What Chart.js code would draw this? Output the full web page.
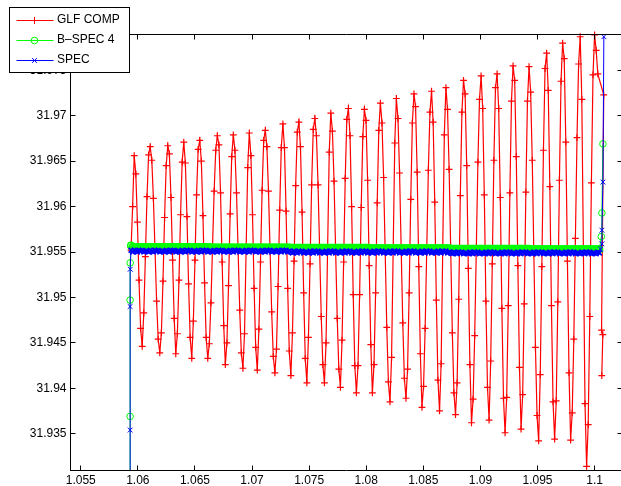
<!DOCTYPE html>
<html>
<head>
<meta charset="utf-8">
<title>GLF COMP / B–SPEC 4 / SPEC</title>
<script src="https://cdn.jsdelivr.net/npm/chart.js@4.4.1/dist/chart.umd.min.js"></script>
<style>
  html, body { margin: 0; padding: 0; background: #fff; overflow: hidden; }
  #wrap { width: 621px; height: 486px; overflow: hidden; }
  canvas { display: block; }
</style>
</head>
<body>
<div id="wrap"><canvas id="plot" width="630" height="486"></canvas></div>
<script>
// Common sweep grid shared by the three traces
const freq = [
  1.0594, 1.05954, 1.05968, 1.05982, 1.05996, 1.0601, 1.06024, 1.06038, 1.06052, 1.06066,
  1.0608, 1.06094, 1.06108, 1.06122, 1.06136, 1.0615, 1.06164, 1.06178, 1.06192, 1.06206,
  1.0622, 1.06234, 1.06248, 1.06262, 1.06276, 1.0629, 1.06304, 1.06318, 1.06332, 1.06346,
  1.0636, 1.06374, 1.06388, 1.06402, 1.06416, 1.0643, 1.06444, 1.06458, 1.06472, 1.06486,
  1.065, 1.06514, 1.06528, 1.06542, 1.06556, 1.0657, 1.06584, 1.06598, 1.06612, 1.06626,
  1.0664, 1.06654, 1.06668, 1.06682, 1.06696, 1.0671, 1.06724, 1.06738, 1.06752, 1.06766,
  1.0678, 1.06794, 1.06808, 1.06822, 1.06836, 1.0685, 1.06864, 1.06878, 1.06892, 1.06906,
  1.0692, 1.06934, 1.06948, 1.06962, 1.06976, 1.0699, 1.07004, 1.07018, 1.07032, 1.07046,
  1.0706, 1.07074, 1.07088, 1.07102, 1.07116, 1.0713, 1.07144, 1.07158, 1.07172, 1.07186,
  1.072, 1.07214, 1.07228, 1.07242, 1.07256, 1.0727, 1.07284, 1.07298, 1.07312, 1.07326,
  1.0734, 1.07354, 1.07368, 1.07382, 1.07396, 1.0741, 1.07424, 1.07438, 1.07452, 1.07466,
  1.0748, 1.07494, 1.07508, 1.07522, 1.07536, 1.0755, 1.07564, 1.07578, 1.07592, 1.07606,
  1.0762, 1.07634, 1.07648, 1.07662, 1.07676, 1.0769, 1.07704, 1.07718, 1.07732, 1.07746,
  1.0776, 1.07774, 1.07788, 1.07802, 1.07816, 1.0783, 1.07844, 1.07858, 1.07872, 1.07886,
  1.079, 1.07914, 1.07928, 1.07942, 1.07956, 1.0797, 1.07984, 1.07998, 1.08012, 1.08026,
  1.0804, 1.08054, 1.08068, 1.08082, 1.08096, 1.0811, 1.08124, 1.08138, 1.08152, 1.08166,
  1.0818, 1.08194, 1.08208, 1.08222, 1.08236, 1.0825, 1.08264, 1.08278, 1.08292, 1.08306,
  1.0832, 1.08334, 1.08348, 1.08362, 1.08376, 1.0839, 1.08404, 1.08418, 1.08432, 1.08446,
  1.0846, 1.08474, 1.08488, 1.08502, 1.08516, 1.0853, 1.08544, 1.08558, 1.08572, 1.08586,
  1.086, 1.08614, 1.08628, 1.08642, 1.08656, 1.0867, 1.08684, 1.08698, 1.08712, 1.08726,
  1.0874, 1.08754, 1.08768, 1.08782, 1.08796, 1.0881, 1.08824, 1.08838, 1.08852, 1.08866,
  1.0888, 1.08894, 1.08908, 1.08922, 1.08936, 1.0895, 1.08964, 1.08978, 1.08992, 1.09006,
  1.0902, 1.09034, 1.09048, 1.09062, 1.09076, 1.0909, 1.09104, 1.09118, 1.09132, 1.09146,
  1.0916, 1.09174, 1.09188, 1.09202, 1.09216, 1.0923, 1.09244, 1.09258, 1.09272, 1.09286,
  1.093, 1.09314, 1.09328, 1.09342, 1.09356, 1.0937, 1.09384, 1.09398, 1.09412, 1.09426,
  1.0944, 1.09454, 1.09468, 1.09482, 1.09496, 1.0951, 1.09524, 1.09538, 1.09552, 1.09566,
  1.0958, 1.09594, 1.09608, 1.09622, 1.09636, 1.0965, 1.09664, 1.09678, 1.09692, 1.09706,
  1.0972, 1.09734, 1.09748, 1.09762, 1.09776, 1.0979, 1.09804, 1.09818, 1.09832, 1.09846,
  1.0986, 1.09874, 1.09888, 1.09902, 1.09916, 1.0993, 1.09944, 1.09958, 1.09972, 1.09986,
  1.1, 1.10014, 1.10028, 1.10042
];

// GLF COMP on freq[0..292]
const glfComp = [
  31.9552, 31.9600, 31.9656, 31.9636, 31.9583, 31.9519, 31.9466, 31.9446, 31.9483, 31.9545,
  31.9611, 31.9657, 31.9666, 31.9651, 31.9609, 31.9553, 31.9496, 31.9454, 31.9439, 31.9461,
  31.9518, 31.9588, 31.9645, 31.9667, 31.9658, 31.9610, 31.9541, 31.9477, 31.9438, 31.9460,
  31.9519, 31.9591, 31.9649, 31.9671, 31.9648, 31.9589, 31.9515, 31.9456, 31.9433, 31.9474,
  31.9541, 31.9613, 31.9663, 31.9673, 31.9650, 31.9590, 31.9516, 31.9456, 31.9433, 31.9449,
  31.9494, 31.9556, 31.9617, 31.9662, 31.9678, 31.9668, 31.9615, 31.9539, 31.9469, 31.9426,
  31.9450, 31.9513, 31.9592, 31.9655, 31.9679, 31.9662, 31.9615, 31.9551, 31.9486, 31.9439,
  31.9422, 31.9460, 31.9552, 31.9643, 31.9681, 31.9656, 31.9591, 31.9510, 31.9445, 31.9420,
  31.9465, 31.9539, 31.9618, 31.9673, 31.9684, 31.9666, 31.9617, 31.9551, 31.9484, 31.9435,
  31.9417, 31.9443, 31.9512, 31.9596, 31.9665, 31.9691, 31.9665, 31.9595, 31.9510, 31.9441,
  31.9414, 31.9461, 31.9540, 31.9623, 31.9682, 31.9693, 31.9666, 31.9594, 31.9505, 31.9433,
  31.9406, 31.9456, 31.9537, 31.9624, 31.9685, 31.9697, 31.9678, 31.9624, 31.9552, 31.9479,
  31.9426, 31.9406, 31.9450, 31.9555, 31.9660, 31.9703, 31.9683, 31.9628, 31.9552, 31.9477,
  31.9421, 31.9401, 31.9453, 31.9539, 31.9631, 31.9696, 31.9708, 31.9678, 31.9600, 31.9503,
  31.9425, 31.9395, 31.9425, 31.9503, 31.9599, 31.9677, 31.9707, 31.9695, 31.9629, 31.9535,
  31.9448, 31.9395, 31.9426, 31.9505, 31.9604, 31.9684, 31.9714, 31.9692, 31.9632, 31.9550,
  31.9467, 31.9407, 31.9385, 31.9434, 31.9552, 31.9670, 31.9719, 31.9697, 31.9637, 31.9554,
  31.9472, 31.9411, 31.9389, 31.9421, 31.9505, 31.9608, 31.9692, 31.9724, 31.9710, 31.9638,
  31.9534, 31.9438, 31.9379, 31.9402, 31.9466, 31.9553, 31.9640, 31.9704, 31.9727, 31.9693,
  31.9605, 31.9497, 31.9409, 31.9375, 31.9427, 31.9553, 31.9679, 31.9731, 31.9707, 31.9641,
  31.9551, 31.9461, 31.9395, 31.9371, 31.9406, 31.9498, 31.9612, 31.9704, 31.9739, 31.9724,
  31.9645, 31.9532, 31.9426, 31.9362, 31.9388, 31.9458, 31.9553, 31.9649, 31.9718, 31.9744,
  31.9708, 31.9613, 31.9496, 31.9401, 31.9365, 31.9430, 31.9537, 31.9651, 31.9731, 31.9746,
  31.9708, 31.9610, 31.9488, 31.9389, 31.9351, 31.9390, 31.9491, 31.9615, 31.9716, 31.9755,
  31.9739, 31.9655, 31.9535, 31.9423, 31.9355, 31.9393, 31.9493, 31.9616, 31.9716, 31.9754,
  31.9726, 31.9651, 31.9548, 31.9445, 31.9370, 31.9342, 31.9415, 31.9534, 31.9662, 31.9752,
  31.9769, 31.9728, 31.9622, 31.9491, 31.9385, 31.9344, 31.9386, 31.9495, 31.9629, 31.9738,
  31.9780, 31.9763, 31.9671, 31.9540, 31.9417, 31.9343, 31.9373, 31.9454, 31.9565, 31.9676,
  31.9757, 31.9787, 31.9718, 31.9551, 31.9383, 31.9314, 31.9360, 31.9479, 31.9626, 31.9745,
  31.9789, 31.9772, 31.9746
];
const glfCompEndX = [1.1008, 1.10061, 1.10072, 1.10063];
const glfCompEndY = [31.9723, 31.9464, 31.9459, 31.9414];

// B-SPEC 4: start-up ramp, flat run on freq, end ramp
const bspec4StartX = [1.05932, 1.05932, 1.05932, 1.05933];
const bspec4StartY = [31.925, 31.9369, 31.9497, 31.9538];
const bspec4 = [
  31.9557, 31.95555, 31.95555, 31.95555, 31.95555, 31.95555, 31.95555, 31.95555, 31.95555, 31.95555,
  31.95555, 31.95555, 31.95555, 31.95555, 31.95555, 31.95555, 31.95555, 31.95555, 31.95555, 31.95555,
  31.95555, 31.95555, 31.95555, 31.95555, 31.95555, 31.95555, 31.95555, 31.95555, 31.95555, 31.95555,
  31.95555, 31.95555, 31.95555, 31.95555, 31.95555, 31.95555, 31.95555, 31.95555, 31.95555, 31.95555,
  31.95555, 31.95555, 31.95555, 31.95555, 31.95555, 31.95555, 31.95555, 31.95555, 31.95555, 31.95555,
  31.9555, 31.9555, 31.9555, 31.9555, 31.9555, 31.9555, 31.9555, 31.9555, 31.9555, 31.9555,
  31.9555, 31.9555, 31.9555, 31.9555, 31.9555, 31.9555, 31.9555, 31.9555, 31.9555, 31.9555,
  31.9555, 31.9555, 31.9555, 31.9555, 31.9555, 31.9555, 31.9555, 31.9555, 31.9555, 31.9555,
  31.9555, 31.9555, 31.9555, 31.9555, 31.9555, 31.9555, 31.9555, 31.9555, 31.9555, 31.9555,
  31.9555, 31.9555, 31.9555, 31.9555, 31.9555, 31.9555, 31.9555, 31.9555, 31.9555, 31.9555,
  31.95545, 31.95545, 31.95545, 31.95545, 31.95545, 31.95545, 31.95545, 31.95545, 31.95545, 31.95545,
  31.95545, 31.95545, 31.95545, 31.95545, 31.95545, 31.95545, 31.95545, 31.95545, 31.95545, 31.95545,
  31.95545, 31.95545, 31.95545, 31.95545, 31.95545, 31.95545, 31.95545, 31.95545, 31.95545, 31.95545,
  31.95545, 31.95545, 31.95545, 31.95545, 31.95545, 31.95545, 31.95545, 31.95545, 31.95545, 31.95545,
  31.95545, 31.95545, 31.95545, 31.95545, 31.95545, 31.95545, 31.95545, 31.95545, 31.95545, 31.95545,
  31.9554, 31.9554, 31.9554, 31.9554, 31.9554, 31.9554, 31.9554, 31.9554, 31.9554, 31.9554,
  31.9554, 31.9554, 31.9554, 31.9554, 31.9554, 31.9554, 31.9554, 31.9554, 31.9554, 31.9554,
  31.9554, 31.9554, 31.9554, 31.9554, 31.9554, 31.9554, 31.9554, 31.9554, 31.9554, 31.9554,
  31.9554, 31.9554, 31.9554, 31.9554, 31.9554, 31.9554, 31.9554, 31.9554, 31.9554, 31.9554,
  31.9554, 31.9554, 31.9554, 31.9554, 31.9554, 31.9554, 31.9554, 31.9554, 31.9554, 31.9554,
  31.95535, 31.95535, 31.95535, 31.95535, 31.95535, 31.95535, 31.95535, 31.95535, 31.95535, 31.95535,
  31.95535, 31.95535, 31.95535, 31.95535, 31.95535, 31.95535, 31.95535, 31.95535, 31.95535, 31.95535,
  31.95535, 31.95535, 31.95535, 31.95535, 31.95535, 31.95535, 31.95535, 31.95535, 31.95535, 31.95535,
  31.95535, 31.95535, 31.95535, 31.95535, 31.95535, 31.95535, 31.95535, 31.95535, 31.95535, 31.95535,
  31.95535, 31.95535, 31.95535, 31.95535, 31.95535, 31.95535, 31.95535, 31.95535, 31.95535, 31.95535,
  31.9553, 31.9553, 31.9553, 31.9553, 31.9553, 31.9553, 31.9553, 31.9553, 31.9553, 31.9553,
  31.9553, 31.9553, 31.9553, 31.9553, 31.9553, 31.9553, 31.9553, 31.9553, 31.9553, 31.9553,
  31.9553, 31.9553, 31.9553, 31.9553, 31.9553, 31.9553, 31.9553, 31.9553, 31.9553, 31.9553,
  31.9553, 31.9553, 31.9553, 31.9553, 31.9553, 31.9553, 31.9553, 31.9553, 31.9553, 31.9553,
  31.9553, 31.9553, 31.9553, 31.9553
];
const bspec4EndX = [1.10059, 1.10064, 1.10073];
const bspec4EndY = [31.9567, 31.9593, 31.9669];

// SPEC: start-up ramp, flat run on freq (with its small scatter), end ramp
const specStartX = [1.05932, 1.05932, 1.05932, 1.05933];
const specStartY = [31.925, 31.9354, 31.949, 31.9531];
const spec = [
  31.9552, 31.9550, 31.9552, 31.9551, 31.9550, 31.9552, 31.9551, 31.9552, 31.9550, 31.9551,
  31.9551, 31.9550, 31.9552, 31.9551, 31.9550, 31.9552, 31.9551, 31.9552, 31.9550, 31.9551,
  31.9551, 31.9550, 31.9552, 31.9551, 31.9550, 31.9552, 31.9551, 31.9552, 31.9550, 31.9551,
  31.9551, 31.9550, 31.9552, 31.9551, 31.9550, 31.9552, 31.9551, 31.9552, 31.9550, 31.9551,
  31.9551, 31.9550, 31.9552, 31.9551, 31.9550, 31.9552, 31.9551, 31.9552, 31.9550, 31.9551,
  31.9551, 31.9550, 31.9552, 31.9551, 31.9550, 31.9552, 31.9551, 31.9552, 31.9550, 31.9551,
  31.9551, 31.9550, 31.9552, 31.9551, 31.9550, 31.9552, 31.9551, 31.9552, 31.9550, 31.9551,
  31.9551, 31.9550, 31.9552, 31.9551, 31.9550, 31.9552, 31.9551, 31.9552, 31.9550, 31.9551,
  31.9551, 31.9550, 31.9552, 31.9551, 31.9550, 31.9552, 31.9551, 31.9552, 31.9550, 31.9551,
  31.9551, 31.9550, 31.9552, 31.9551, 31.9550, 31.9552, 31.9551, 31.9552, 31.9550, 31.9551,
  31.9550, 31.9549, 31.9551, 31.9550, 31.9549, 31.9551, 31.9550, 31.9551, 31.9549, 31.9550,
  31.9550, 31.9549, 31.9551, 31.9550, 31.9549, 31.9551, 31.9550, 31.9551, 31.9549, 31.9550,
  31.9550, 31.9549, 31.9551, 31.9550, 31.9549, 31.9551, 31.9550, 31.9551, 31.9549, 31.9550,
  31.9550, 31.9549, 31.9551, 31.9550, 31.9549, 31.9551, 31.9550, 31.9551, 31.9549, 31.9550,
  31.9550, 31.9549, 31.9551, 31.9550, 31.9549, 31.9551, 31.9550, 31.9551, 31.9549, 31.9550,
  31.9550, 31.9549, 31.9551, 31.9550, 31.9549, 31.9551, 31.9550, 31.9551, 31.9549, 31.9550,
  31.9550, 31.9549, 31.9551, 31.9550, 31.9549, 31.9551, 31.9550, 31.9551, 31.9549, 31.9550,
  31.9550, 31.9549, 31.9551, 31.9550, 31.9549, 31.9551, 31.9550, 31.9551, 31.9549, 31.9550,
  31.9550, 31.9549, 31.9551, 31.9550, 31.9549, 31.9551, 31.9550, 31.9551, 31.9549, 31.9550,
  31.9550, 31.9549, 31.9551, 31.9550, 31.9549, 31.9551, 31.9550, 31.9551, 31.9549, 31.9550,
  31.9549, 31.9548, 31.9550, 31.9549, 31.9548, 31.9550, 31.9549, 31.9550, 31.9548, 31.9549,
  31.9549, 31.9548, 31.9550, 31.9549, 31.9548, 31.9550, 31.9549, 31.9550, 31.9548, 31.9549,
  31.9549, 31.9548, 31.9550, 31.9549, 31.9548, 31.9550, 31.9549, 31.9550, 31.9548, 31.9549,
  31.9549, 31.9548, 31.9550, 31.9549, 31.9548, 31.9550, 31.9549, 31.9550, 31.9548, 31.9549,
  31.9549, 31.9548, 31.9550, 31.9549, 31.9548, 31.9550, 31.9549, 31.9550, 31.9548, 31.9549,
  31.9549, 31.9548, 31.9550, 31.9549, 31.9548, 31.9550, 31.9549, 31.9550, 31.9548, 31.9549,
  31.9549, 31.9548, 31.9550, 31.9549, 31.9548, 31.9550, 31.9549, 31.9550, 31.9548, 31.9549,
  31.9549, 31.9548, 31.9550, 31.9549, 31.9548, 31.9550, 31.9549, 31.9550, 31.9548, 31.9549,
  31.9549, 31.9548, 31.9550, 31.9549, 31.9548, 31.9550, 31.9549, 31.9550, 31.9548, 31.9549,
  31.9549, 31.9548, 31.9550, 31.9549
];
const specEndX = [1.10053, 1.10064, 1.10064, 1.10073, 1.10081];
const specEndY = [31.9553, 31.9559, 31.9574, 31.9627, 31.9787];

const seriesNames = ['GLF COMP', 'B\u2013SPEC 4', 'SPEC'];
const xTicks = [1.055, 1.06, 1.065, 1.07, 1.075, 1.08, 1.085, 1.09, 1.095, 1.1];
const xTickLabels = ['1.055', '1.06', '1.065', '1.07', '1.075', '1.08', '1.085', '1.09', '1.095', '1.1'];
const yTicks = [31.935, 31.94, 31.945, 31.95, 31.955, 31.96, 31.965, 31.97, 31.975];
const yTickLabels = ['31.935', '31.94', '31.945', '31.95', '31.955', '31.96', '31.965', '31.97', '31.975'];

// ---- build point lists ----
function toPoints(xs, ys) { return ys.map((y, i) => ({ x: xs[i], y: y })); }
const glfPoints = toPoints(freq, glfComp).concat(toPoints(glfCompEndX, glfCompEndY));
const bspecPoints = toPoints(bspec4StartX, bspec4StartY)
  .concat(toPoints(freq, bspec4), toPoints(bspec4EndX, bspec4EndY));
const specPoints = toPoints(specStartX, specStartY)
  .concat(toPoints(freq, spec), toPoints(specEndX, specEndY));

// markers on the long flat run overlap into a solid strip; draw them a touch heavier
function runWidth(startLen, runLen, heavy) {
  return ctx => (ctx.dataIndex >= startLen && ctx.dataIndex < startLen + runLen) ? heavy : 1;
}

const RED = '#ff0000', GREEN = '#00ff00', BLUE = '#0000ff';
const TICK = 5;
const LEGEND = { left: 10, top: 6, width: 120 };
const FRAME = { x: 9.5, y: 7.5, w: 120, h: 65 };

// Legend swatches: a short line with the series marker in the middle
function swatch(color, kind) {
  const c = document.createElement('canvas');
  c.width = 39; c.height = 12;
  const g = c.getContext('2d');
  g.strokeStyle = color; g.lineWidth = 1;
  g.beginPath(); g.moveTo(1.5, 6.5); g.lineTo(38.5, 6.5); g.stroke();
  const cx = 19.5, cy = 6.5;
  g.beginPath();
  if (kind === 'plus') {
    g.moveTo(cx - 3.5, cy); g.lineTo(cx + 3.5, cy);
    g.moveTo(cx, cy - 3.5); g.lineTo(cx, cy + 3.5);
  } else if (kind === 'circle') {
    g.arc(cx, cy, 3.3, 0, Math.PI * 2);
  } else {
    g.moveTo(cx - 2.4, cy - 2.4); g.lineTo(cx + 2.4, cy + 2.4);
    g.moveTo(cx + 2.4, cy - 2.4); g.lineTo(cx - 2.4, cy + 2.4);
  }
  g.stroke();
  return c;
}
const swatches = [swatch(RED, 'plus'), swatch(GREEN, 'circle'), swatch(BLUE, 'x')];

// Box frame, inward tick marks and the framed legend on top
const axesFrame = {
  id: 'axesFrame',
  afterLayout(chart) {
    const lg = chart.legend;
    if (!lg) return;
    lg.left = LEGEND.left;
    lg.top = LEGEND.top;
    lg.right = LEGEND.left + LEGEND.width;
    lg.bottom = LEGEND.top + 200;
  },
  afterDraw(chart) {
    const { ctx, chartArea: a } = chart;
    const xs = chart.scales.x, ys = chart.scales.y;
    const snap = v => Math.round(v - 0.5) + 0.5;
    const L = snap(a.left), R = snap(a.right), T = snap(a.top), B = snap(a.bottom);
    ctx.save();
    ctx.strokeStyle = '#000';
    ctx.lineWidth = 1;
    ctx.beginPath();
    ctx.moveTo(L, T); ctx.lineTo(R, T); ctx.lineTo(R, B);
    for (const v of xTicks) {
      const p = snap(xs.getPixelForValue(v));
      ctx.moveTo(p, B); ctx.lineTo(p, B - TICK);
      ctx.moveTo(p, T); ctx.lineTo(p, T + TICK);
    }
    for (const v of yTicks) {
      const p = snap(ys.getPixelForValue(v));
      ctx.moveTo(L, p); ctx.lineTo(L + TICK, p);
      ctx.moveTo(R, p); ctx.lineTo(R - TICK, p);
    }
    ctx.stroke();
    ctx.fillStyle = '#fff';
    ctx.fillRect(FRAME.x, FRAME.y, FRAME.w, FRAME.h);
    ctx.strokeRect(FRAME.x, FRAME.y, FRAME.w, FRAME.h);
    ctx.restore();
    chart.legend.draw();
  }
};

Chart.defaults.font.family = "'Liberation Sans', Arial, Helvetica, sans-serif";
Chart.defaults.font.size = 12;
Chart.defaults.color = '#000';

new Chart(document.getElementById('plot'), {
  type: 'scatter',
  data: {
    datasets: [
      {
        label: seriesNames[0],
        data: glfPoints,
        showLine: true,
        borderColor: RED,
        borderWidth: 1.2,
        pointStyle: 'cross',
        pointRadius: 3.4,
        pointBorderWidth: 1.2,
        pointBorderColor: RED,
        pointBackgroundColor: RED,
        order: 2,
        clip: 6
      },
      {
        label: seriesNames[1],
        data: bspecPoints,
        showLine: true,
        borderColor: GREEN,
        borderWidth: 1,
        pointStyle: 'circle',
        pointRadius: 3.3,
        pointBorderWidth: runWidth(bspec4StartY.length, bspec4.length, 1.5),
        pointBorderColor: GREEN,
        pointBackgroundColor: 'rgba(0,0,0,0)',
        order: 1,
        clip: { left: 6, top: 6, right: 6, bottom: 0 }
      },
      {
        label: seriesNames[2],
        data: specPoints,
        showLine: true,
        borderColor: BLUE,
        borderWidth: 1,
        pointStyle: 'crossRot',
        pointRadius: 3.4,
        pointBorderWidth: runWidth(specStartY.length, spec.length, 1.7),
        pointBorderColor: BLUE,
        pointBackgroundColor: BLUE,
        order: 0,
        clip: { left: 6, top: 6, right: 6, bottom: 0 }
      }
    ]
  },
  options: {
    responsive: false,
    devicePixelRatio: 1,
    animation: false,
    events: [],
    layout: { padding: { left: 0, top: 34, right: 8, bottom: 0 } },
    elements: { line: { tension: 0 } },
    plugins: {
      tooltip: { enabled: false },
      legend: {
        display: true,
        position: 'chartArea',
        align: 'start',
        labels: {
          usePointStyle: true,
          pointStyleWidth: 33,
          padding: 8,
          font: { size: 12 },
          generateLabels(chart) {
            return chart.data.datasets.map((ds, i) => ({
              text: ds.label,
              datasetIndex: i,
              pointStyle: swatches[i],
              fillStyle: 'rgba(0,0,0,0)',
              strokeStyle: 'rgba(0,0,0,0)',
              lineWidth: 0,
              fontColor: '#000',
              hidden: false
            }));
          }
        }
      }
    },
    scales: {
      x: {
        type: 'linear',
        min: 1.0541,
        max: 1.1024,
        afterBuildTicks(scale) { scale.ticks = xTicks.map(v => ({ value: v })); },
        afterFit(scale) { scale.height = 16; },
        grid: { display: false, drawTicks: false },
        border: { display: true, color: '#000', width: 1 },
        ticks: {
          autoSkip: false,
          maxRotation: 0,
          padding: 3,
          color: '#000',
          font: { size: 12 },
          callback: (v, i) => xTickLabels[i]
        }
      },
      y: {
        type: 'linear',
        min: 31.931,
        max: 31.979,
        afterBuildTicks(scale) { scale.ticks = yTicks.map(v => ({ value: v })); },
        afterFit(scale) { scale.width = 70.5; },
        grid: { display: false, drawTicks: false },
        border: { display: true, color: '#000', width: 1 },
        ticks: {
          autoSkip: false,
          padding: 4,
          color: '#000',
          font: { size: 12 },
          callback: (v, i) => yTickLabels[i]
        }
      }
    }
  },
  plugins: [axesFrame]
});
</script>
</body>
</html>
